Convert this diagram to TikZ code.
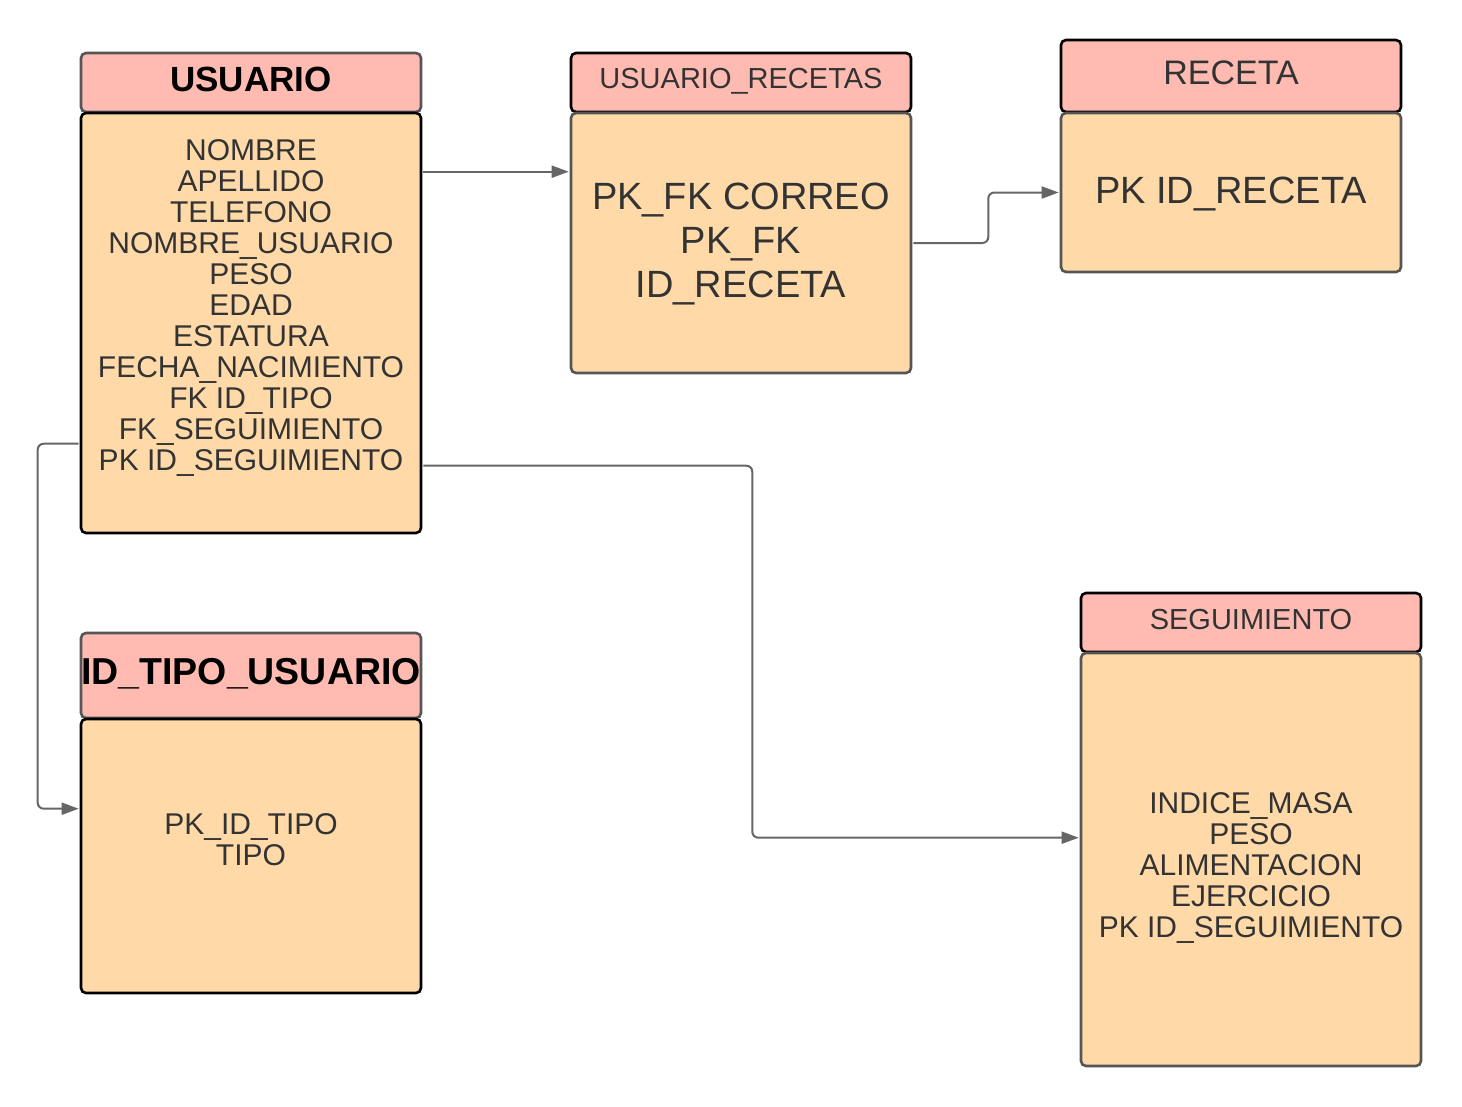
\documentclass[tikz,border=0pt]{standalone}
\usepackage{fontspec}
\setmainfont{Liberation Sans}
\usetikzlibrary{calc,arrows.meta}
\definecolor{hdrfill}{HTML}{FFBBB1}
\definecolor{bodyfill}{HTML}{FFDAA8}
\definecolor{txt}{HTML}{333333}
\definecolor{edgegray}{HTML}{666666}
\definecolor{boxgray}{HTML}{555555}
\begin{document}
\begin{tikzpicture}[x=1pt,y=-1pt,
  box/.style={draw, line width=2.6pt, rounded corners=5pt, minimum width=340pt, inner sep=0pt},
  hdr/.style={box, fill=hdrfill},
  bdy/.style={box, fill=bodyfill},
  blk/.style={draw=black},
  gry/.style={draw=boxgray},
  lbl/.style={align=center, text=txt, inner sep=0pt},
  conn/.style={draw=edgegray, line width=2pt, rounded corners=6pt, -{Triangle[length=17pt,width=12pt]}}
]
\useasboundingbox (0,0) rectangle (1462,1106);
\newcommand{\fbody}{\fontsize{30}{31}\selectfont}
\newcommand{\fbig}{\fontsize{38}{44}\selectfont}
\newcommand{\fhdr}{\fontsize{29}{30}\selectfont}

% USUARIO
\node[hdr, gry, minimum height=59pt] (uh) at (251,82.5) {};
\node[bdy, blk, minimum height=420pt] (ub) at (251,323) {};
\node[lbl, text=black, font=\fontsize{35}{38}\selectfont\bfseries] (uht) at (251,79) {USUARIO};
\node[lbl, font=\fbody] (ubt) at (251,308) {NOMBRE\\APELLIDO\\TELEFONO\\NOMBRE\_USUARIO\\PESO\\EDAD\\ESTATURA\\FECHA\_NACIMIENTO\\FK ID\_TIPO\\FK\_SEGUIMIENTO\\PK ID\_SEGUIMIENTO};

% USUARIO_RECETAS
\node[hdr, blk, minimum height=59pt] (urh) at (741,82.5) {};
\node[bdy, gry, minimum height=260pt] (urb) at (741,243) {};
\node[lbl, font=\fhdr] (urht) at (741,81) {USUARIO\_RECETAS};
\node[lbl, font=\fbig] (urbt) at (741,244) {PK\_FK CORREO\\PK\_FK\\ID\_RECETA};

% RECETA
\node[hdr, blk, minimum height=72pt] (rh) at (1231,76) {};
\node[bdy, gry, minimum height=159pt] (rb) at (1231,192.5) {};
\node[lbl, font=\fontsize{34}{38}\selectfont] (rht) at (1231,73) {RECETA};
\node[lbl, font=\fbig] (rbt) at (1231,194) {PK ID\_RECETA};

% ID_TIPO_USUARIO
\node[hdr, gry, minimum height=85pt] (th) at (251,675.5) {};
\node[bdy, blk, minimum height=274pt] (tb) at (251,856) {};
\node[lbl, text=black, font=\fontsize{37.5}{40}\selectfont\bfseries] (tht) at (251,674) {ID\_TIPO\_USUARIO};
\node[lbl, font=\fbody] (tbt) at (251,840) {PK\_ID\_TIPO\\TIPO};

% SEGUIMIENTO
\node[hdr, blk, minimum height=59pt] (sh) at (1251,622.5) {};
\node[bdy, gry, minimum height=413pt] (sb) at (1251,859.5) {};
\node[lbl, font=\fhdr] (sht) at (1251,620) {SEGUIMIENTO};
\node[lbl, font=\fbody] (sbt) at (1251,868) {INDICE\_MASA\\PESO\\ALIMENTACION\\EJERCICIO\\PK ID\_SEGUIMIENTO};

% connectors
\draw[conn] ($(ub.north east)+(1,60)$) -- ($(urb.north west)+(-1,60)$);
\draw[conn] ($(urb.east)+(1,0)$) -- ++(75,0) |- ($(rb.west)+(-1,0)$);
\draw[conn] ($(ub.north west)+(-1,332)$) -- ++(-41,0) |- ($(tb.north west)+(-1,91)$);
\draw[conn] ($(ub.north east)+(1,354)$) -- ++(329,0) |- ($(sb.north west)+(-1,186)$);
\end{tikzpicture}
\end{document}
